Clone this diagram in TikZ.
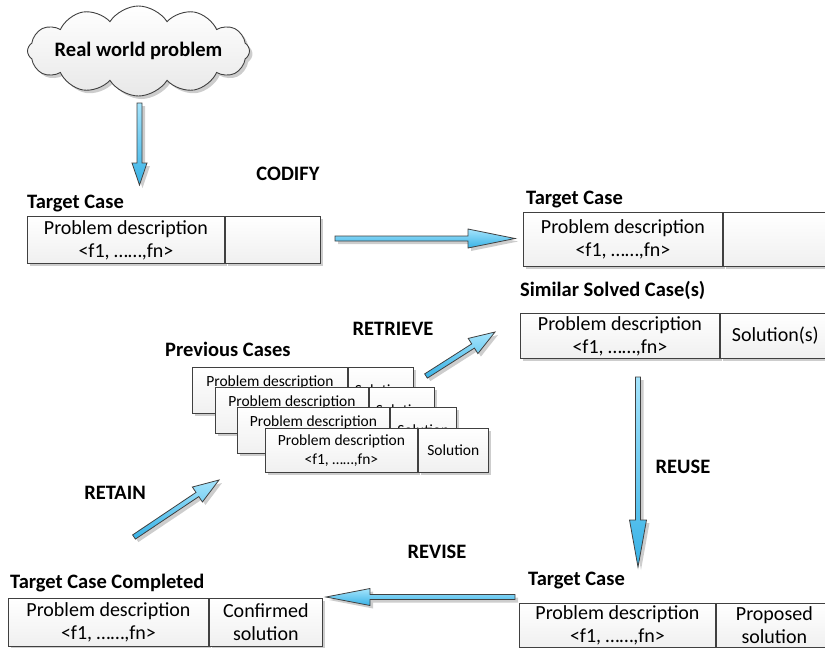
\documentclass[tikz,border=0pt]{standalone}
\usepackage{fontspec}
\setmainfont{Carlito}
\usetikzlibrary{shapes.symbols,shadows,calc}

\definecolor{edge}{RGB}{64,64,64}
\definecolor{arrowlight}{RGB}{165,228,252}
\definecolor{arrowdark}{RGB}{55,178,230}
\definecolor{shade}{RGB}{205,205,205}

\tikzset{
  boxshadow/.style={drop shadow={shadow xshift=3pt, shadow yshift=-3pt, fill=shade, opacity=1}},
  casecell/.style={draw=edge, line width=0.9pt, top color=white, bottom color=gray!12,
    inner sep=0pt, align=center, anchor=north west,
    font=\fontsize{20}{23}\selectfont, boxshadow},
  minicell/.style={casecell, font=\fontsize{15.5}{19}\selectfont},
  caselabel/.style={anchor=base west, inner sep=0pt, font=\fontsize{20.5}{24}\selectfont\bfseries},
  stagelabel/.style={inner sep=0pt, font=\fontsize{20.5}{24}\selectfont\bfseries},
  arrowbody/.style={draw=edge, line width=0.8pt, top color=arrowlight, bottom color=arrowdark, line join=miter},
  arrowshadow/.style={fill=shade},
}

% Block arrow from #1 to #2: head length #3, head half-width #4, shaft half-width #5
\newcommand\blockarrow[5]{%
  \pgfpointdiff{\pgfpointanchor{#1}{center}}{\pgfpointanchor{#2}{center}}%
  \pgfgetlastxy{\bax}{\bay}%
  \pgfmathsetmacro\baang{atan2(\bay,\bax)}%
  \pgfmathsetmacro\balen{veclen(\bax,\bay)}%
  \pgfmathsetmacro\babase{\balen-#3}%
  \fill[arrowshadow, shift={(#1)}, xshift=3pt, yshift=-3pt, rotate=\baang]
    (0,-#5) -- (\babase,-#5) -- (\babase,-#4) -- (\balen,0) -- (\babase,#4) -- (\babase,#5) -- (0,#5) -- cycle;
  \draw[arrowbody, shift={(#1)}, rotate=\baang]
    (0,-#5) -- (\babase,-#5) -- (\babase,-#4) -- (\balen,0) -- (\babase,#4) -- (\babase,#5) -- (0,#5) -- cycle;
}

\begin{document}
\begin{tikzpicture}[x=1pt, y=-1pt]
\useasboundingbox (0,0) rectangle (825,648);
\clip (0,0) rectangle (825,648);

% Problem cloud (outline, then its caption on top)
\node[cloud, cloud puffs=12, cloud puff arc=115, cloud ignores aspect,
      minimum width=222pt, minimum height=90pt, inner sep=0pt,
      draw=edge, line width=0.9pt, top color=white, bottom color=gray!18, boxshadow] (cloud) at (138.5,51) {};
\node[inner sep=0pt, font=\fontsize{20.5}{24}\selectfont\bfseries] (cloudtext) at (cloud.center) {Real world problem};

% Target case (new)
\node[caselabel] (t1lab) at (27,208) {Target Case};
\node[casecell, minimum width=197pt, minimum height=47pt] (t1p) at (27,216) {Problem description\\<f1, ……,fn>};
\node[casecell, minimum width=95pt, minimum height=47pt] (t1s) at (t1p.north east) {};

% Target case (codified)
\node[caselabel] (t2lab) at (526,204) {Target Case};
\node[casecell, minimum width=199pt, minimum height=54pt] (t2p) at (523,212) {Problem description\\<f1, ……,fn>};
\node[casecell, minimum width=110pt, minimum height=54pt] (t2s) at (t2p.north east) {};

% Similar solved cases
\node[caselabel] (sslab) at (520,296) {Similar Solved Case(s)};
\node[casecell, minimum width=199pt, minimum height=45pt] (ssp) at (520,313) {Problem description\\<f1, ……,fn>};
\node[casecell, minimum width=110pt, minimum height=45pt] (sss) at (ssp.north east) {Solution(s)};

% Case base (stacked cases, each partly covering the one before)
\node[caselabel] (pclab) at (165,356) {Previous Cases};
\node[minicell, minimum width=155pt, minimum height=46pt] (pc1p) at (192,367) {Problem description\\\phantom{<f1>}};
\node[minicell, minimum width=65pt, minimum height=46pt] (pc1s) at (pc1p.north east) {Solution};
\node[minicell, minimum width=153pt, minimum height=46pt] (pc2p) at (215,387) {Problem description\\\phantom{<f1>}};
\node[minicell, minimum width=65pt, minimum height=46pt] (pc2s) at (pc2p.north east) {Solution};
\node[minicell, minimum width=152pt, minimum height=46pt] (pc3p) at (237,407) {Problem description\\\phantom{<f1>}};
\node[minicell, minimum width=66pt, minimum height=46pt] (pc3s) at (pc3p.north east) {Solution};
\node[minicell, minimum width=152pt, minimum height=44pt] (pc4p) at (265,428) {Problem description\\<f1, ……,fn>};
\node[minicell, minimum width=70pt, minimum height=44pt] (pc4s) at (pc4p.north east) {Solution};

% Target case with proposed solution
\node[caselabel] (t3lab) at (528,585) {Target Case};
\node[casecell, minimum width=196pt, minimum height=44pt] (t3p) at (519,603) {Problem description\\<f1, ……,fn>};
\node[casecell, minimum width=116pt, minimum height=44pt] (t3s) at (t3p.north east) {Proposed\\solution};

% Completed target case
\node[caselabel] (t4lab) at (10,588) {Target Case Completed};
\node[casecell, minimum width=200pt, minimum height=48pt] (t4p) at (8,598) {Problem description\\<f1, ……,fn>};
\node[casecell, minimum width=113pt, minimum height=48pt] (t4s) at (t4p.north east) {Confirmed\\solution};

% Stage names
\node[stagelabel] (codify) at (288,174) {CODIFY};
\node[stagelabel] (retrieve) at (393,329) {RETRIEVE};
\node[stagelabel] (reuse) at (683,467) {REUSE};
\node[stagelabel] (revise) at (437,552) {REVISE};
\node[stagelabel] (retain) at (115,493) {RETAIN};

% Arrow end points
\coordinate (inS) at (139.5,103);  \coordinate (inE) at (139.5,185);
\coordinate (coS) at (335,238.5);  \coordinate (coE) at (515,238.5);
\coordinate (rtS) at (426,376);    \coordinate (rtE) at (495,332);
\coordinate (ruS) at (638,377);    \coordinate (ruE) at (638,567);
\coordinate (rvS) at (515,597);    \coordinate (rvE) at (326,597);
\coordinate (raS) at (134,537);    \coordinate (raE) at (219,480);

\blockarrow{inS}{inE}{22}{7.5}{2.5}
\blockarrow{coS}{coE}{47}{9.5}{2.5}
\blockarrow{rtS}{rtE}{26}{9}{2.5}
\blockarrow{ruS}{ruE}{47}{8.5}{2.5}
\blockarrow{rvS}{rvE}{44}{8.5}{2.5}
\blockarrow{raS}{raE}{26}{9}{2.5}
\end{tikzpicture}
\end{document}
